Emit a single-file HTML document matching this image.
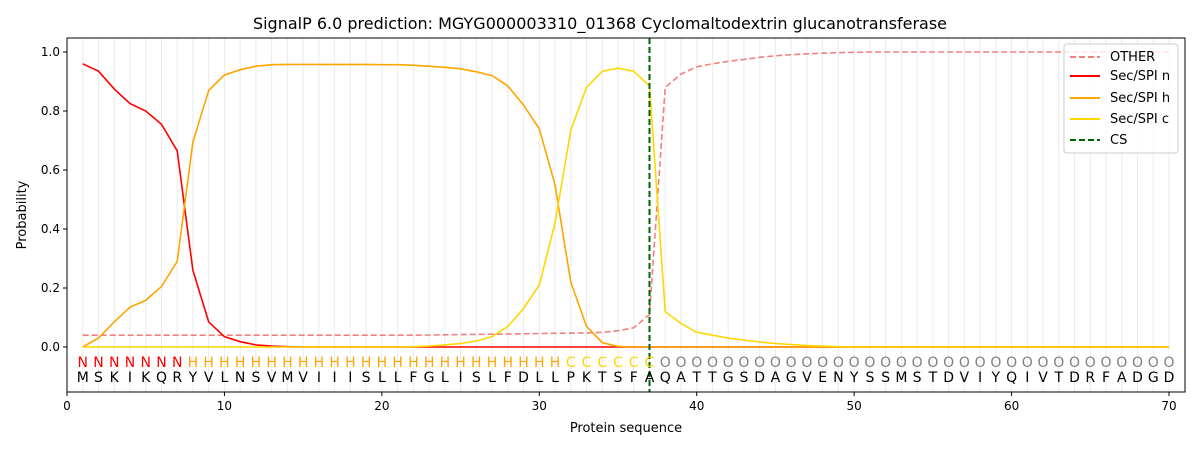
<!DOCTYPE html>
<html><head><meta charset="utf-8"><style>
body{margin:0;background:#fff;}
svg{font-family:"DejaVu Sans","Liberation Sans",sans-serif;}
</style></head><body>
<svg id="s" width="1200" height="450" xmlns="http://www.w3.org/2000/svg">
<rect width="1200" height="450" fill="#fff"/>
<g id="grid"></g>
<g id="lines"></g>
<rect x="67" y="38" width="1118" height="354" fill="none" stroke="#000" stroke-width="1"/>
<g id="ticks" font-size="12" fill="#000"></g>
<g id="seq" font-size="14"></g>
<text x="600" y="29" font-size="16" text-anchor="middle">SignalP 6.0 prediction: MGYG000003310_01368 Cyclomaltodextrin glucanotransferase</text>
<text x="626" y="432" font-size="13" text-anchor="middle">Protein sequence</text>
<text x="26" y="215" font-size="13" text-anchor="middle" transform="rotate(-90 26 215)">Probability</text>
<g>
<rect x="1064" y="44" width="114" height="109" rx="3" fill="#fff" fill-opacity="0.8" stroke="#ccc"/>
<line x1="1070" y1="57" x2="1100" y2="57" stroke="#f08080" stroke-width="2" stroke-dasharray="6,3"/>
<text x="1110" y="61" font-size="13">OTHER</text>
<line x1="1070" y1="76" x2="1100" y2="76" stroke="#ff0000" stroke-width="2"/>
<text x="1110" y="80" font-size="13">Sec/SPI n</text>
<line x1="1070" y1="98" x2="1100" y2="98" stroke="#ffa500" stroke-width="2"/>
<text x="1110" y="102" font-size="13">Sec/SPI h</text>
<line x1="1070" y1="119" x2="1100" y2="119" stroke="#ffd700" stroke-width="2"/>
<text x="1110" y="123" font-size="13">Sec/SPI c</text>
<line x1="1070" y1="140" x2="1100" y2="140" stroke="#006400" stroke-width="2" stroke-dasharray="6,3"/>
<text x="1110" y="144" font-size="13">CS</text>
</g>
</svg>
<script>
const NS="http://www.w3.org/2000/svg";
const X=v=>67+v*15.743, Y=v=>347-v*295;
function el(p,t,a,txt){const e=document.createElementNS(NS,t);for(const k in a)e.setAttribute(k,a[k]);if(txt!=null)e.textContent=txt;document.getElementById(p).appendChild(e);return e;}
for(let i=1;i<=70;i++)el("grid","line",{x1:X(i),x2:X(i),y1:38,y2:392,stroke:"#ebebeb","stroke-width":1});
const seq="MSKIKQRYVLNSVMVIIISLLFGLISLFDLLPKTSFAQATTGSDAGVENYSSMSTDVIYQIVTDRFADGD";
for(let i=1;i<=70;i++){
 let l,c; if(i<=7){l="N";c="#ff0000"}else if(i<=31){l="H";c="#ffa500"}else if(i<=37){l="C";c="#ffd700"}else{l="O";c="#808080"}
 el("seq","text",{x:X(i),y:367,"text-anchor":"middle",fill:c},l);
 el("seq","text",{x:X(i),y:382,"text-anchor":"middle",fill:"#000"},seq[i-1]);
}
for(let v=0;v<=70;v+=10){el("ticks","line",{x1:X(v),x2:X(v),y1:392,y2:396,stroke:"#000"});el("ticks","text",{x:X(v),y:410,"text-anchor":"middle"},v);}
for(let k=0;k<=5;k++){const v=k*0.2;el("ticks","line",{x1:63,x2:67,y1:Y(v),y2:Y(v),stroke:"#000"});el("ticks","text",{x:60,y:Y(v)+4,"text-anchor":"end"},v.toFixed(1));}
function fill(arr,n,v){while(arr.length<n)arr.push(v);return arr;}
const nS=fill([.96,.935,.875,.825,.80,.755,.665,.26,.085,.035,.018,.007,.003,.001],70,0);
const hS=fill([0,.03,.085,.135,.158,.205,.29,.695,.87,.922,.94,.952,.957,.958,.958,.958,.958,.958,.958,.957,.957,.955,.952,.948,.943,.933,.92,.885,.82,.74,.55,.22,.07,.015,.002],70,0);
const cS=fill([0,0,0,0,0,0,0,0,0,0,0,0,0,0,0,0,0,0,0,0,0,.001,.003,.007,.012,.02,.035,.07,.13,.21,.42,.735,.88,.935,.945,.935,.885,.12,.08,.05,.04,.03,.023,.017,.012,.008,.005,.003,.001],70,0);
const oS=[];for(let i=1;i<=70;i++){let v;if(i<=22)v=.04;else if(i<=33)v=.04+(i-22)*.0007;else v=({34:.05,35:.055,36:.065,37:.11,38:.88,39:.925,40:.95,41:.96,42:.968,43:.975,44:.982,45:.987,46:.991,47:.994,48:.996,49:.998,50:.999})[i]??1;oS.push(v);}
function line(a,c,d){el("lines","polyline",{points:a.map((v,i)=>X(i+1).toFixed(1)+","+Y(v).toFixed(1)).join(" "),fill:"none",stroke:c,"stroke-width":1.6,"stroke-dasharray":d||"none"});}
line(oS,"#f08080","6,3");line(nS,"#ff0000");line(hS,"#ffa500");line(cS,"#ffd700");
el("lines","line",{x1:X(37),x2:X(37),y1:38,y2:392,stroke:"#006400","stroke-width":2,"stroke-dasharray":"6,3"});
</script>
</body></html>
